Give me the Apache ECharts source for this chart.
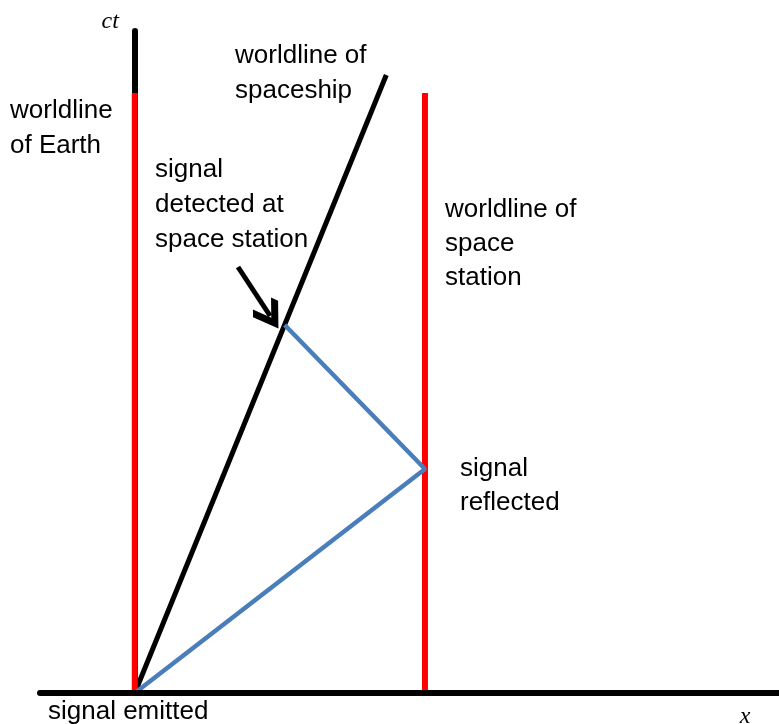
<!DOCTYPE html>
<html>
<head>
<meta charset="utf-8">
<script src="https://cdn.jsdelivr.net/npm/echarts@6/dist/echarts.min.js"></script>
<style>
  html, body { margin: 0; padding: 0; background: #fff; }
  #main { width: 779px; height: 724px; }
</style>
</head>
<body>
<div id="main"></div>
<script>
// spacetime diagram: x in station-distance units, ct in the same-ish units
var earthLine = [[0, 0], [0, 6.0]];
var stationLine = [[3, 0], [3, 6.0]];
var shipLine = [[0, 0], [2.6, 6.18]];
var signalPath = [[0, 0], [3, 2.24], [1.55, 3.68]];
var arrowPath = [[1.067, 4.26], [1.40, 3.77]];

var labelFont = '"Liberation Sans", Arial, sans-serif';

var chart = echarts.init(document.getElementById('main'));

function seg(data, color, width, z) {
  return {
    type: 'line',
    data: data,
    showSymbol: false,
    symbol: 'none',
    silent: true,
    z: z,
    clip: false,
    lineStyle: { color: color, width: width, cap: 'butt' }
  };
}

function txt(str, left, top, lh) {
  return {
    type: 'text',
    left: left,
    top: top,
    style: {
      text: str,
      font: '26px ' + labelFont,
      fill: '#000',
      lineHeight: lh || 35
    }
  };
}

var option = {
  backgroundColor: '#fff',
  animation: false,
  grid: { left: 40, right: 0, top: 31, bottom: 31, containLabel: false, outerBoundsMode: 'none' },
  xAxis: {
    type: 'value',
    min: -0.98,
    max: 6.66,
    z: 10,
    name: 'x',
    nameLocation: 'end',
    nameGap: -34,
    nameTextStyle: {
      fontFamily: '"Liberation Serif", "Times New Roman", serif',
      fontStyle: 'italic',
      fontSize: 24,
      color: '#000',
      verticalAlign: 'top',
      align: 'center',
      padding: [12, 0, 0, 0]
    },
    axisLine: { onZero: false, lineStyle: { color: '#000', width: 6 } },
    axisTick: { show: false },
    axisLabel: { show: false },
    splitLine: { show: false }
  },
  yAxis: {
    type: 'value',
    min: 0,
    max: 6.62,
    name: 'ct',
    nameLocation: 'end',
    nameGap: -3,
    nameTextStyle: {
      fontFamily: '"Liberation Serif", "Times New Roman", serif',
      fontStyle: 'italic',
      fontSize: 24,
      color: '#000',
      align: 'right',
      padding: [0, 16, 0, 0]
    },
    axisLine: { onZero: true, lineStyle: { color: '#000', width: 6 } },
    axisTick: { show: false },
    axisLabel: { show: false },
    splitLine: { show: false }
  },
  series: [
    seg(shipLine, '#000', 5, 3),
    seg(earthLine, '#ff0000', 6, 4),
    seg(stationLine, '#ff0000', 6, 4),
    seg(signalPath, '#4a7ebb', 4.5, 5),
    {
      type: 'lines',
      coordinateSystem: 'cartesian2d',
      silent: true,
      z: 6,
      symbol: ['none', 'path://M0,18 L18,0 L36,18 L31,23 L18,10 L5,23 Z'],
      symbolSize: [46, 30],
      lineStyle: { color: '#000', width: 5, opacity: 1 },
      itemStyle: { color: '#000' },
      data: [{ coords: arrowPath }]
    }
  ],
  graphic: [
    txt('worldline\nof Earth', 10, 93),
    txt('worldline of\nspaceship', 235, 38),
    txt('signal\ndetected at\nspace station', 155, 152),
    txt('worldline of\nspace\nstation', 445, 193, 34),
    txt('signal\nreflected', 460, 452, 34),
    txt('signal emitted', 48, 697, 30)
  ]
};

chart.setOption(option);
</script>
</body>
</html>
